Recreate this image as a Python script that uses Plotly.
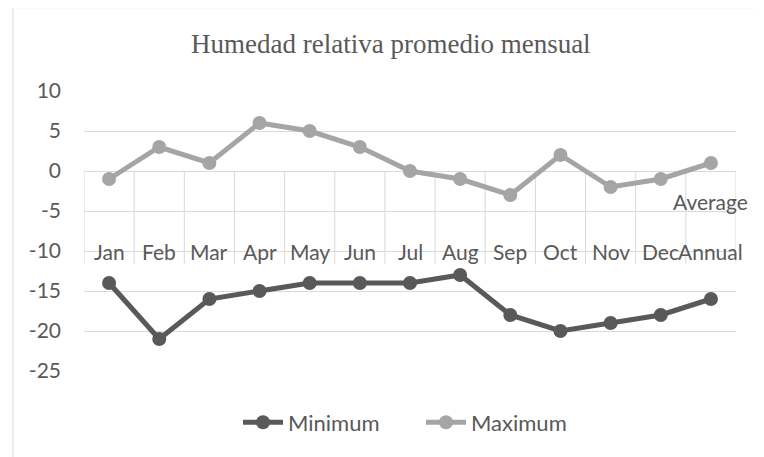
import plotly.graph_objects as go

categories = ["Jan", "Feb", "Mar", "Apr", "May", "Jun", "Jul", "Aug", "Sep", "Oct", "Nov", "Dec", "Annual"]
extra_label = "Average"
minimum = [-14, -21, -16, -15, -14, -14, -14, -13, -18, -20, -19, -18, -16]
maximum = [-1, 3, 1, 6, 5, 3, 0, -1, -3, 2, -2, -1, 1]
y_ticks = [10, 5, 0, -5, -10, -15, -20, -25]
title_text = "Humedad relativa promedio mensual"

TXT = "#595959"
GRID = "#d9d9d9"
FONT = "Lato"

# page body has an 8px margin; figure coordinates are shifted accordingly
OFF = 8
W, H = 764 - OFF, 457 - OFF
L, T = 84 - OFF, 91 - OFF
R = W - (736 - OFF)
B = H - (371.5 - OFF)
pw = W - L - R
ph = H - T - B


def px_x(p):
    return (p - OFF - L) / pw


def px_y(p):
    return (H - B - (p - OFF)) / ph


fig = go.Figure()
fig.add_trace(go.Scatter(
    x=list(range(len(categories))), y=minimum, name="Minimum", mode="lines+markers",
    line=dict(color="#595959", width=5), marker=dict(size=14, color="#595959")))
fig.add_trace(go.Scatter(
    x=list(range(len(categories))), y=maximum, name="Maximum", mode="lines+markers",
    line=dict(color="#a5a5a5", width=5), marker=dict(size=14, color="#a5a5a5")))

shapes = []
for i in range(len(categories) + 1):
    shapes.append(dict(type="line", xref="x", yref="y", x0=i - 0.5, x1=i - 0.5,
                       y0=0, y1=-11.6, line=dict(color=GRID, width=1), layer="below"))
# chart border
shapes.append(dict(type="rect", xref="paper", yref="paper",
                   x0=px_x(13), x1=px_x(780), y0=px_y(7.5), y1=px_y(480),
                   line=dict(color=GRID, width=1), fillcolor="rgba(0,0,0,0)", layer="below"))

annotations = []
for i, c in enumerate(categories):
    annotations.append(dict(x=i, y=-10, xref="x", yref="y", text=c, showarrow=False,
                            xanchor="center", yanchor="middle",
                            font=dict(family=FONT, size=21, color=TXT)))
annotations.append(dict(x=len(categories) - 1, y=-3.85, xref="x", yref="y", text=extra_label,
                        showarrow=False, xanchor="center", yanchor="middle",
                        font=dict(family=FONT, size=21, color=TXT)))
annotations.append(dict(x=px_x(390.5), y=px_y(44), xref="paper", yref="paper",
                        text=title_text, showarrow=False, xanchor="center", yanchor="middle",
                        font=dict(family="Liberation Serif", size=27, color=TXT)))

fig.update_layout(
    width=W, height=H,
    margin=dict(l=L, r=R, t=T, b=B, pad=0),
    paper_bgcolor="white", plot_bgcolor="white",
    showlegend=True,
    legend=dict(orientation="h", x=px_x(238), xanchor="left",
                y=px_y(423), yanchor="middle", entrywidth=128,
                font=dict(family=FONT, size=22, color=TXT), itemwidth=40),
    xaxis=dict(range=[-0.5, len(categories) - 0.5], showgrid=False, zeroline=False,
               showticklabels=False, showline=False, fixedrange=True),
    yaxis=dict(range=[-25, 10], tickvals=y_ticks, ticktext=[str(v) for v in y_ticks],
               showgrid=True, gridcolor=GRID, gridwidth=1, zeroline=False, showline=False,
               tickfont=dict(family=FONT, size=21, color=TXT), ticks="", ticklabelstandoff=22,
               fixedrange=True),
    shapes=shapes, annotations=annotations,
)

fig.write_html("out.html")
